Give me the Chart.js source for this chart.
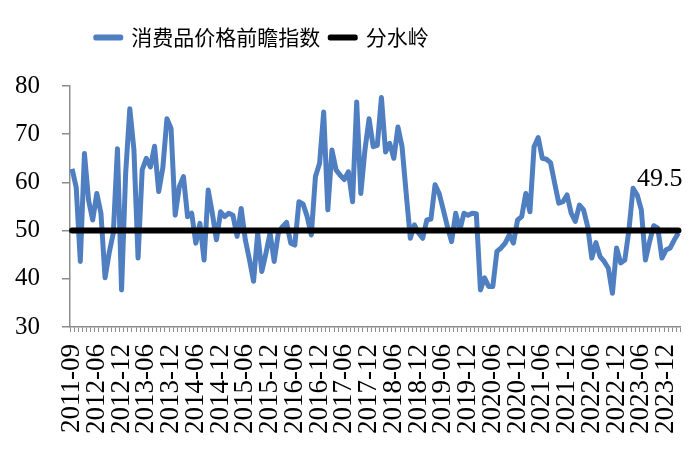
<!DOCTYPE html>
<html>
<head>
<meta charset="utf-8">
<script src="https://cdn.jsdelivr.net/npm/chart.js@4.4.1/dist/chart.umd.min.js"></script>
<style>
  html, body { margin: 0; padding: 0; background: #ffffff; }
  #wrap { width: 700px; height: 457px; position: relative; }
</style>
</head>
<body>
<div id="wrap"><canvas id="c" width="700" height="457"></canvas></div>
<script>
// ---- data ----
const seriesName = '消费品价格前瞻指数';
const thresholdName = '分水岭';
const thresholdValue = 50;

// displayed tick labels (one every 6 categories)
const tickLabels = ['2011-09','2012-06','2012-12','2013-06','2013-12','2014-06','2014-12',
  '2015-06','2015-12','2016-06','2016-12','2017-06','2017-12','2018-06','2018-12',
  '2019-06','2019-12','2020-06','2020-12','2021-06','2021-12','2022-06','2022-12',
  '2023-06','2023-12'];

const indexValues = [
  62.8, 59.0, 43.6, 66.0, 56.3, 52.2, 57.7, 53.6, 40.2, 45.4,
  49.5, 67.0, 37.7, 62.0, 75.3, 66.7, 44.3, 62.6, 65.0, 63.2,
  67.5, 58.1, 63.0, 73.2, 71.2, 53.2, 59.1, 61.2, 52.9, 53.6,
  47.4, 51.5, 43.9, 58.4, 53.6, 48.1, 53.9, 52.9, 53.6, 53.2,
  48.8, 54.6, 48.1, 44.0, 39.5, 49.5, 41.5, 45.3, 49.5, 43.6,
  49.5, 50.8, 51.7, 47.4, 47.0, 56.0, 55.5, 52.9, 49.1, 61.2,
  63.9, 74.6, 54.3, 66.7, 62.6, 61.5, 60.6, 62.2, 56.0, 76.7,
  57.7, 66.7, 73.2, 67.4, 67.7, 77.6, 66.3, 68.1, 65.0, 71.5,
  67.4, 57.7, 48.4, 51.2, 49.5, 48.4, 52.2, 52.4, 59.5, 57.7,
  54.3, 50.8, 47.7, 53.6, 50.1, 53.6, 53.2, 53.6, 53.5, 37.7,
  40.2, 38.4, 38.4, 45.7, 46.4, 47.4, 49.1, 47.4, 52.2, 52.9,
  57.7, 53.9, 67.4, 69.3, 65.0, 64.8, 64.1, 59.8, 55.7, 56.0,
  57.4, 53.6, 51.9, 55.3, 54.3, 50.8, 44.3, 47.5, 44.6, 43.6,
  42.2, 37.0, 46.4, 43.3, 43.9, 50.1, 58.8, 57.4, 54.3, 43.9,
  47.7, 51.0, 50.5, 44.3, 46.0, 46.4, 48.1, 49.5
];

// monthly categories
const categories = [];
(function () {
  let y = 2011, m = 12;
  for (let i = 0; i < indexValues.length; i++) {
    categories.push(y + '-' + String(m).padStart(2, '0'));
    m++; if (m > 12) { m = 1; y++; }
  }
})();
const thresholdValues = categories.map(() => thresholdValue);

const AXIS_GREY = '#8c8c8c';
const BLUE = '#4f7fc0';

const legendShift = {
  id: 'legendShift',
  afterLayout(chart) {
    const L = chart.legend;
    if (!L) return;
    const dx = -78, dy = -28;
    L.left += dx; L.right += dx;
    L.top += dy; L.bottom += dy;
  }
};

const lastLabel = {
  id: 'lastLabel',
  afterDatasetsDraw(chart) {
    const meta = chart.getDatasetMeta(0);
    const pt = meta.data[meta.data.length - 1];
    const ctx = chart.ctx;
    ctx.save();
    ctx.font = '26px "Liberation Serif", "Times New Roman", serif';
    ctx.fillStyle = '#000';
    ctx.textAlign = 'right';
    ctx.textBaseline = 'middle';
    ctx.fillText(String(indexValues[indexValues.length - 1]), pt.x + 4, pt.y - 54);
    ctx.restore();
  }
};

new Chart(document.getElementById('c'), {
  type: 'line',
  data: {
    labels: categories,
    datasets: [
      {
        label: seriesName,
        data: indexValues,
        borderColor: BLUE,
        backgroundColor: BLUE,
        borderWidth: 5,
        pointRadius: 0,
        tension: 0,
        borderJoinStyle: 'round',
        order: 1
      },
      {
        label: thresholdName,
        data: thresholdValues,
        borderColor: '#000000',
        backgroundColor: '#000000',
        borderWidth: 6,
        pointRadius: 0,
        borderCapStyle: 'round',
        order: 0
      }
    ]
  },
  options: {
    responsive: false,
    animation: false,
    layout: { padding: { top: 45, right: 19.5, left: 0, bottom: 0 } },
    plugins: {
      tooltip: { enabled: false },
      legend: {
        display: true,
        position: 'top',
        align: 'center',
        labels: {
          boxWidth: 25,
          boxHeight: 1,
          padding: 10,
          color: '#000',
          font: { family: '"Noto Sans CJK SC", sans-serif', size: 21 },
          sort: (a, b) => a.datasetIndex - b.datasetIndex,
          generateLabels(chart) {
            const items = Chart.defaults.plugins.legend.labels.generateLabels(chart);
            items.forEach(it => {
              const ds = chart.data.datasets[it.datasetIndex];
              it.fillStyle = ds.borderColor;
              it.strokeStyle = ds.borderColor;
              it.lineWidth = 5;
              it.lineJoin = 'round';
              it.lineCap = 'round';
              it.lineDash = [];
            });
            return items;
          }
        }
      }
    },
    scales: {
      x: {
        type: 'category',
        offset: true,
        grid: {
          display: true,
          offset: true,
          drawOnChartArea: false,
          drawTicks: true,
          tickLength: 5,
          color: AXIS_GREY,
          lineWidth: 1
        },
        border: { display: true, color: AXIS_GREY, width: 1.5 },
        ticks: {
          autoSkip: false,
          maxRotation: 90,
          minRotation: 90,
          padding: 12,
          color: '#000',
          font: { family: '"Liberation Serif", "Times New Roman", serif', size: 27 },
          callback: function (val, idx) {
            return idx % 6 === 0 ? (tickLabels[idx / 6] || '') : '';
          }
        },
        afterFit(scale) {
          scale.height = 130;
          scale.paddingLeft = 0;
          scale.paddingRight = 0;
        }
      },
      y: {
        min: 30,
        max: 80,
        grid: {
          display: true,
          drawOnChartArea: false,
          drawTicks: true,
          tickLength: 8,
          color: AXIS_GREY,
          lineWidth: 1.5
        },
        border: { display: true, color: AXIS_GREY, width: 1.5 },
        ticks: {
          stepSize: 10,
          padding: 22,
          color: '#000',
          font: { family: '"Liberation Serif", "Times New Roman", serif', size: 25 }
        },
        afterFit(scale) { scale.width = 70; }
      }
    }
  },
  plugins: [legendShift, lastLabel]
});
</script>
</body>
</html>
